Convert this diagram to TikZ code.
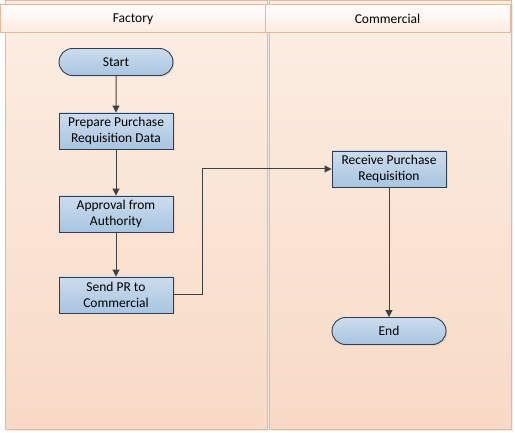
\documentclass[tikz,border=0pt]{standalone}
\usepackage{fontspec}
\setmainfont{Carlito}
\usetikzlibrary{arrows.meta,shapes.misc,shadows}
\definecolor{laneline}{RGB}{232,184,150}
\definecolor{lanetop}{RGB}{252,238,228}
\definecolor{lanebot}{RGB}{248,218,198}
\definecolor{headbot}{RGB}{251,234,222}
\definecolor{boxtop}{RGB}{205,220,237}
\definecolor{boxbot}{RGB}{168,197,225}
\definecolor{boxline}{RGB}{46,62,86}
\definecolor{wire}{RGB}{64,64,64}

\begin{document}
\begin{tikzpicture}[
    x=1pt, y=-1pt,
    >={Triangle[length=7pt,width=7pt]},
    lane/.style={
        draw=laneline,
        line width=1pt,
        top color=lanetop,
        bottom color=lanebot,
        drop shadow={shadow xshift=1.5pt, shadow yshift=-2pt, opacity=0.15}
    },
    lanehead/.style={
        draw=laneline,
        line width=1pt,
        top color=white,
        bottom color=headbot,
        minimum height=28pt,
        inner sep=0pt,
        font=\fontsize{13.5}{16}\selectfont
    },
    box/.style={
        draw=boxline,
        line width=0.9pt,
        top color=boxtop,
        bottom color=boxbot,
        minimum width=114pt,
        align=center,
        inner sep=0pt,
        font=\fontsize{13.5}{16}\selectfont,
        drop shadow={shadow xshift=1.5pt, shadow yshift=-1.5pt, opacity=0.15}
    },
    procbox/.style={box, minimum height=36pt},
    termbox/.style={box, rounded rectangle, minimum height=27pt},
    arr/.style={->, draw=wire, line width=1pt}
]
    \useasboundingbox (0,0) rectangle (515,433);

    % swimlanes
    \draw[lane] (5,1) rectangle (267,429);
    \draw[lane] (269,1) rectangle (511,429);
    \node[lanehead, minimum width=266pt] (hfactory) at (133,19) {Factory};
    \node[lanehead, minimum width=245pt] (hcommercial) at (387.5,19) {Commercial};

    % factory lane
    \node[termbox] (start) at (116,62) {Start};
    \node[procbox] (prep) at (116,131) {Prepare Purchase\\Requisition Data};
    \node[procbox] (appr) at (116,214) {Approval from\\Authority};
    \node[procbox] (send) at (116,295) {Send PR to\\Commercial};

    % commercial lane
    \node[procbox] (recv) at (389,169) {Receive Purchase\\Requisition};
    \node[termbox] (end) at (389,331) {End};

    \draw[arr] (start) -- (prep);
    \draw[arr] (prep) -- (appr);
    \draw[arr] (appr) -- (send);
    \draw[arr] (send.east) -- ++(29,0) |- (recv.west);
    \draw[arr] (recv) -- (end);
\end{tikzpicture}
\end{document}
